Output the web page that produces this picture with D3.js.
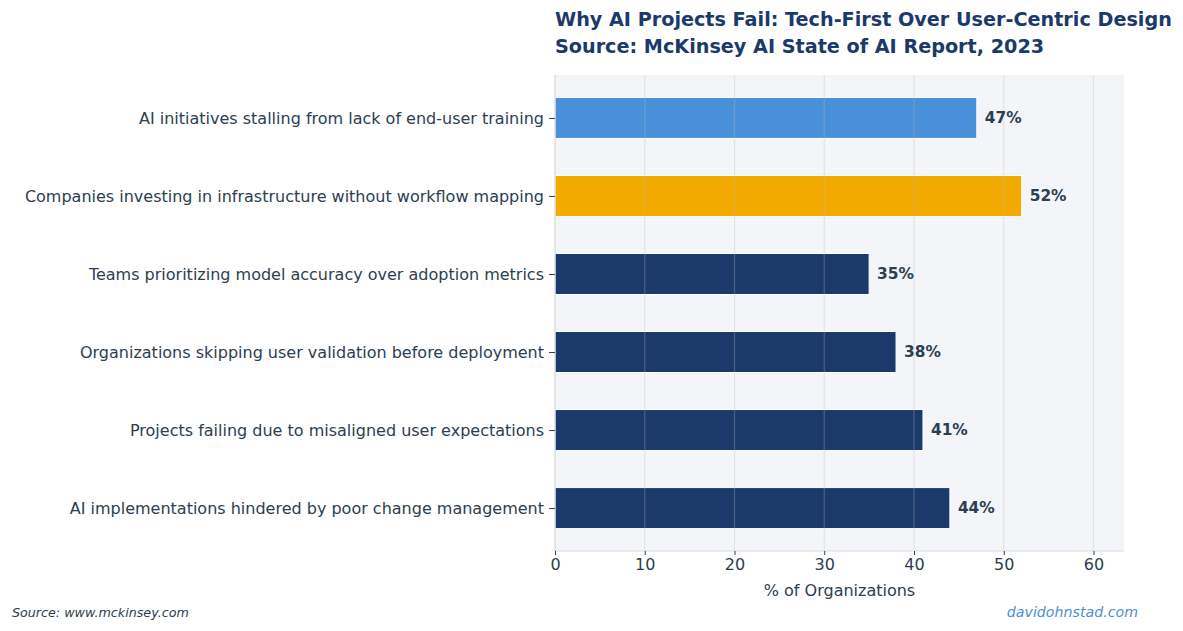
<!DOCTYPE html>
<html>
<head>
<meta charset="utf-8">
<script src="https://cdn.jsdelivr.net/npm/d3@7"></script>
<style>
  body { margin: 0; background: #fff; }
  svg text { font-family: "DejaVu Sans", sans-serif; }
</style>
</head>
<body>
<div id="chart"></div>
<script>
// data, top to bottom
const categories = [
    "AI initiatives stalling from lack of end-user training",
    "Companies investing in infrastructure without workflow mapping",
    "Teams prioritizing model accuracy over adoption metrics",
    "Organizations skipping user validation before deployment",
    "Projects failing due to misaligned user expectations",
    "AI implementations hindered by poor change management"
];
const values = [47, 52, 35, 38, 41, 44];
const barColors = ["#4a90d9", "#f2a900", "#1b3a6b", "#1b3a6b", "#1b3a6b", "#1b3a6b"];
const xTicks = [0, 10, 20, 30, 40, 50, 60];

const width = 1183, height = 631;
const margin = { top: 75, right: 59, bottom: 80, left: 555 };
const textColor = "#2c3e50";

const svg = d3.select("#chart")
    .append("svg")
    .attr("width", width)
    .attr("height", height);

const x = d3.scaleLinear()
    .domain([0, 63.4])
    .range([margin.left, width - margin.right]);

const y = d3.scalePoint()
    .domain(categories)
    .range([margin.top, height - margin.bottom])
    .padding(0.55);

const barH = 41;

// plot background
svg.append("rect")
    .attr("x", x(0))
    .attr("y", margin.top)
    .attr("width", x.range()[1] - x(0))
    .attr("height", height - margin.bottom - margin.top)
    .attr("fill", "#f4f5f9");

// bars
svg.selectAll(".bar")
    .data(values)
    .join("rect")
    .attr("class", "bar")
    .attr("x", x(0))
    .attr("y", (d, i) => y(categories[i]) - barH / 2)
    .attr("width", d => x(d) - x(0))
    .attr("height", barH)
    .attr("fill", (d, i) => barColors[i])
    .attr("stroke", "#fff")
    .attr("stroke-width", 1);

// grid lines sit on top of the bars, semi transparent
svg.selectAll(".grid")
    .data(xTicks)
    .join("line")
    .attr("class", "grid")
    .attr("x1", d => x(d))
    .attr("x2", d => x(d))
    .attr("y1", margin.top)
    .attr("y2", height - margin.bottom)
    .attr("stroke", "#b8b8b8")
    .attr("stroke-opacity", 0.3)
    .attr("stroke-width", 1.2);

// value labels
svg.selectAll(".val")
    .data(values)
    .join("text")
    .attr("class", "val")
    .attr("x", d => x(d) + 8)
    .attr("y", (d, i) => y(categories[i]))
    .attr("dy", "0.35em")
    .style("font-size", "15.4px")
    .style("font-weight", "bold")
    .style("fill", textColor)
    .text(d => d + "%");

// spines
svg.append("line")
    .attr("x1", x(0)).attr("x2", x(0))
    .attr("y1", margin.top).attr("y2", height - margin.bottom)
    .attr("stroke", "#dcdcdc");
svg.append("line")
    .attr("x1", x(0)).attr("x2", x.range()[1])
    .attr("y1", height - margin.bottom).attr("y2", height - margin.bottom)
    .attr("stroke", "#dcdcdc");

// x axis
const xAxis = svg.append("g")
    .attr("transform", `translate(0,${height - margin.bottom})`)
    .call(d3.axisBottom(x).tickValues(xTicks).tickSize(4).tickPadding(4));
xAxis.select(".domain").remove();
xAxis.selectAll(".tick line").attr("stroke", "#2c3e50");
xAxis.selectAll(".tick text")
    .style("font-size", "16px")
    .style("fill", textColor);

// y axis
const yAxis = svg.append("g")
    .attr("transform", `translate(${x(0)},0)`)
    .call(d3.axisLeft(y).tickSize(6).tickPadding(5));
yAxis.select(".domain").remove();
yAxis.selectAll(".tick line").attr("stroke", "#2c3e50");
yAxis.selectAll(".tick text")
    .style("font-size", "16px")
    .style("fill", textColor);

// x label
svg.append("text")
    .attr("x", (x(0) + x.range()[1]) / 2)
    .attr("y", 596)
    .attr("text-anchor", "middle")
    .style("font-size", "16px")
    .style("fill", textColor)
    .text("% of Organizations");

// title
const title = svg.append("text")
    .attr("x", 555)
    .attr("y", 26)
    .style("font-size", "19.2px")
    .style("font-weight", "bold")
    .style("fill", "#1b3a6b");
title.append("tspan").attr("x", 555).text("Why AI Projects Fail: Tech-First Over User-Centric Design");
title.append("tspan").attr("x", 555).attr("dy", 27).text("Source: McKinsey AI State of AI Report, 2023");

// footer
svg.append("text")
    .attr("x", 12)
    .attr("y", 617)
    .style("font-size", "12.7px")
    .style("font-style", "italic")
    .style("fill", textColor)
    .text("Source: www.mckinsey.com");

svg.append("text")
    .attr("x", 1138)
    .attr("y", 617)
    .attr("text-anchor", "end")
    .style("font-size", "14.2px")
    .style("font-style", "italic")
    .style("fill", "#4a90d9")
    .text("davidohnstad.com");
</script>
</body>
</html>
